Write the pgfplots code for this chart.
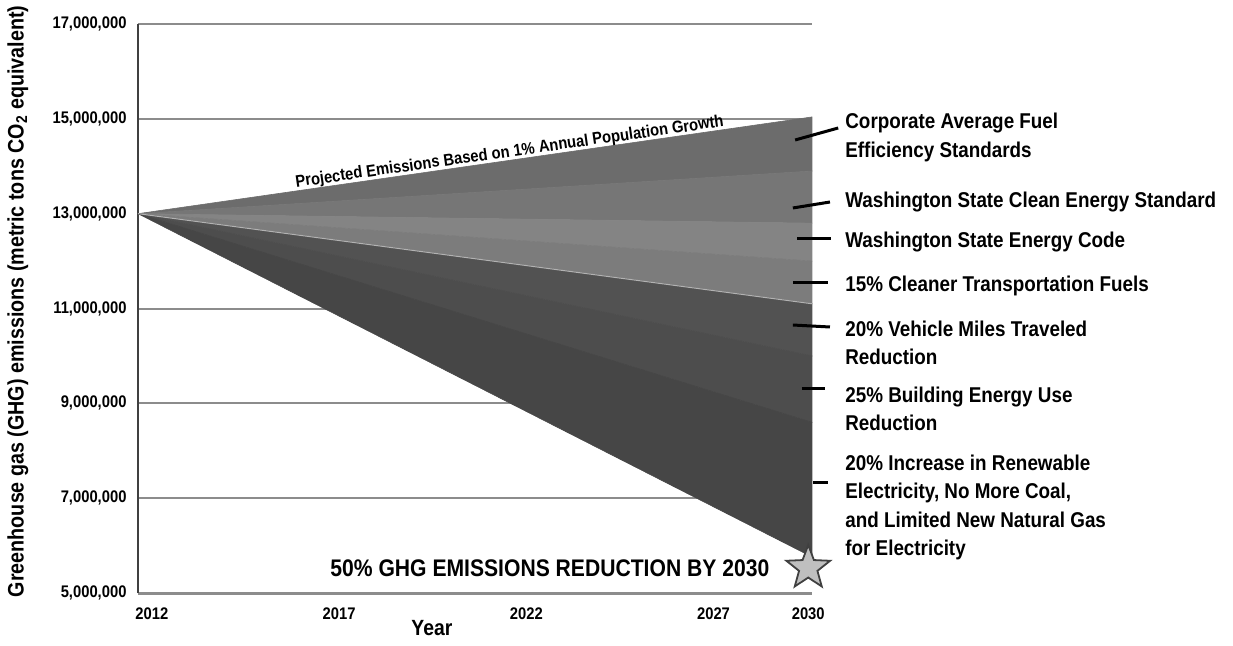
\documentclass[border=0pt]{standalone}
\usepackage{pgfplots}
\pgfplotsset{compat=1.18}
\usepackage{fontspec}
\setmainfont{Liberation Sans}[FakeStretch=0.88]

\definecolor{wA}{RGB}{108,108,108}
\definecolor{wB}{RGB}{118,118,118}
\definecolor{wC}{RGB}{132,132,132}
\definecolor{wD}{RGB}{124,124,124}
\definecolor{wE}{RGB}{82,82,82}
\definecolor{wF}{RGB}{77,77,77}
\definecolor{wG}{RGB}{70,70,70}
\definecolor{gridgray}{RGB}{140,140,140}

% five-point star used as plot mark
\pgfdeclareplotmark{bigstar}{%
  \pgfpathmoveto{\pgfpointpolar{90}{\pgfplotmarksize}}%
  \pgfpathlineto{\pgfpointpolar{126}{0.42\pgfplotmarksize}}%
  \pgfpathlineto{\pgfpointpolar{162}{\pgfplotmarksize}}%
  \pgfpathlineto{\pgfpointpolar{198}{0.42\pgfplotmarksize}}%
  \pgfpathlineto{\pgfpointpolar{234}{\pgfplotmarksize}}%
  \pgfpathlineto{\pgfpointpolar{270}{0.42\pgfplotmarksize}}%
  \pgfpathlineto{\pgfpointpolar{306}{\pgfplotmarksize}}%
  \pgfpathlineto{\pgfpointpolar{342}{0.42\pgfplotmarksize}}%
  \pgfpathlineto{\pgfpointpolar{18}{\pgfplotmarksize}}%
  \pgfpathlineto{\pgfpointpolar{54}{0.42\pgfplotmarksize}}%
  \pgfpathclose
  \pgfusepathqfillstroke}

\newcommand{\lab}{\bfseries\fontsize{10.7}{14.3}\selectfont}

\begin{document}
\begin{tikzpicture}
\useasboundingbox (-69pt,-26pt) rectangle (547.5pt,296.5pt);
\begin{axis}[
    at={(0,0)}, anchor=south west,
    scale only axis,
    width=337pt, height=284.5pt,
    xmin=2012, xmax=2030,
    ymin=5e6, ymax=17e6,
    axis x line=bottom, axis y line=left,
    x axis line style={-, draw=gridgray, line width=1.5pt},
    y axis line style={-, draw=black!75, line width=1pt},
    xtick={2012.37,2017.37,2022.37,2027.37,2029.9},
    xticklabels={2012,2017,2022,2027,2030},
    ytick={5e6,7e6,9e6,11e6,13e6,15e6,17e6},
    yticklabels={{5,000,000},{7,000,000},{9,000,000},{11,000,000},{13,000,000},{15,000,000},{17,000,000}},
    scaled y ticks=false,
    major tick length=0pt,
    ticklabel style={font=\bfseries\fontsize{8.4}{10}\selectfont},
    yticklabel style={xshift=-2.2pt},
    xticklabel style={yshift=-4pt},
    ymajorgrids,
    grid style={draw=gridgray, line width=1pt},
    clip=false,
  ]
  % wedges, apex 2012 at 13 Mt, widths read at 2030
  \addplot[fill=wA, draw=wA, line width=0.3pt] coordinates {(2012,13e6) (2030,15.04e6) (2030,13.9e6)} -- cycle;
  \addplot[fill=wB, draw=wB, line width=0.3pt] coordinates {(2012,13e6) (2030,13.9e6) (2030,12.8e6)} -- cycle;
  \addplot[fill=wC, draw=wC, line width=0.3pt] coordinates {(2012,13e6) (2030,12.8e6) (2030,12.0e6)} -- cycle;
  \addplot[fill=wD, draw=wD, line width=0.3pt] coordinates {(2012,13e6) (2030,12.0e6) (2030,11.1e6)} -- cycle;
  \addplot[fill=wE, draw=wE, line width=0.3pt] coordinates {(2012,13e6) (2030,11.1e6) (2030,10.0e6)} -- cycle;
  \addplot[fill=wF, draw=wF, line width=0.3pt] coordinates {(2012,13e6) (2030,10.0e6) (2030,8.6e6)} -- cycle;
  \addplot[fill=wG, draw=wG, line width=0.3pt] coordinates {(2012,13e6) (2030,8.6e6) (2030,5.76e6)} -- cycle;
  \addplot[draw=gray!60, line width=0.5pt] coordinates {(2012,13e6) (2030,11.1e6)};
  % 2030 target
  \addplot[only marks, mark=bigstar, mark size=11.5pt,
    mark options={fill=gray!50, draw=black!75, line width=0.9pt}] coordinates {(2029.9,5.53e6)};

  % leader lines
  \begin{scope}[line width=1.5pt, black]
  \draw (axis cs:2029.55,14.554e6) -- (axis cs:2030.70,14.807e6);
  \draw (axis cs:2029.49,13.120e6) -- (axis cs:2030.48,13.246e6);
  \draw (axis cs:2029.60,12.466e6) -- (axis cs:2030.51,12.466e6);
  \draw (axis cs:2029.49,11.538e6) -- (axis cs:2030.43,11.538e6);
  \draw (axis cs:2029.49,10.652e6) -- (axis cs:2030.48,10.610e6);
  \draw (axis cs:2029.73,9.303e6) -- (axis cs:2030.35,9.303e6);
  \draw (axis cs:2030.03,7.321e6) -- (axis cs:2030.43,7.321e6);
  \end{scope}

  \begin{scope}[every node/.style={anchor=west, align=left, inner sep=0pt, xshift=16.5pt, font=\lab}]
  \node at (axis cs:2030,14.607e6) {Corporate Average Fuel\\Efficiency Standards};
  \node at (axis cs:2030,13.246e6) {Washington State Clean Energy Standard};
  \node at (axis cs:2030,12.403e6) {Washington State Energy Code};
  \node at (axis cs:2030,11.475e6) {15\% Cleaner Transportation Fuels};
  \node at (axis cs:2030,10.273e6) {20\% Vehicle Miles Traveled\\Reduction};
  \node at (axis cs:2030,8.881e6) {25\% Building Energy Use\\Reduction};
  \node at (axis cs:2030,6.804e6) {20\% Increase in Renewable\\Electricity, No More Coal,\\and Limited New Natural Gas\\for Electricity};
  \end{scope}

  \node[anchor=base, rotate=8.1, inner sep=0pt, font=\bfseries\fontsize{8.4}{10}\selectfont]
    at (axis cs:2021.94,14.20e6) {Projected Emissions Based on 1\% Annual Population Growth};
  \node[font=\bfseries\fontsize{12}{14}\selectfont, inner sep=0pt]
    at (axis cs:2023.0,5.528e6) {50\% GHG EMISSIONS REDUCTION BY 2030};
  \node[font=\bfseries\fontsize{11}{13}\selectfont, inner sep=0pt, yshift=-17.5pt]
    at (axis cs:2019.85,5e6) {Year};
  \node[rotate=90, font=\bfseries\fontsize{11.2}{13}\selectfont, inner sep=0pt]
    at ([xshift=-60pt]axis cs:2012,11.15e6) {Greenhouse gas (GHG) emissions (metric tons CO\textsubscript{2} equivalent)};
\end{axis}
\end{tikzpicture}
\end{document}
